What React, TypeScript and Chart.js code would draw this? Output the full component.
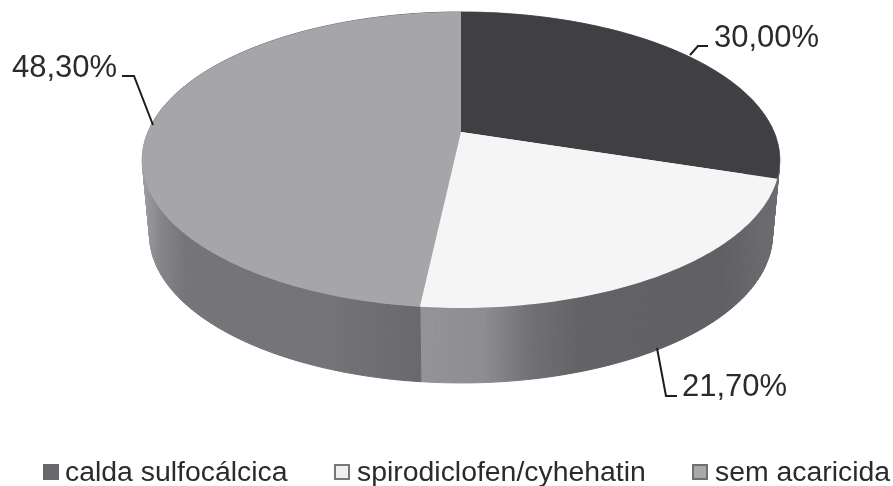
import { useEffect, useRef } from "react";
import { Chart, registerables } from "chart.js";

Chart.register(...registerables);

const categories = ["calda sulfocálcica", "spirodiclofen/cyhehatin", "sem acaricida"];
const shares = [30.0, 21.7, 48.3];
const topColors = ["#3f3f44", "#f5f5f6", "#a5a5aa"];

const FONT = '"Liberation Sans", Arial, sans-serif';

// Perspective view of the disc: angles come from the pie controller, screen
// positions from a projective map centred on the apex of the slices.
const APEX_X = 461;
const APEX_Y = 132;
const SCALE_X = 313;
const SCALE_Y = 142.7;
const TILT = 0.189;
const DEPTH = 75;
const FLOOR_SHRINK = 0.977;

type Stop = [number, string];
const wallShades: Stop[][] = [
  [[560, "#5c5c60"], [778, "#6c6c70"]],
  [[422, "#949498"], [485, "#8d8d91"], [530, "#717175"], [580, "#626267"], [720, "#5f5f64"], [778, "#6d6d71"]],
  [[142, "#a0a0a4"], [160, "#86868a"], [185, "#757579"], [330, "#747478"], [422, "#68686d"]],
];

const labelSpots = [
  { x: 714, y: 47 },
  { x: 682, y: 396 },
  { x: 12, y: 77 },
];
const leaders = [
  [[690, 55], [698, 46], [708, 46]],
  [[657, 348], [666, 396], [677, 396]],
  [[122, 76], [134, 76], [153, 125]],
];
const legendSpots = [
  { box: 43, text: 65 },
  { box: 334, text: 357 },
  { box: 692, text: 715 },
];
const legendFill = ["#69696d", "#efeff0", "#a9a9ac"];
const legendEdge = ["#69696d", "#77777a", "#6f6f72"];

const project = (angle: number, floor: boolean) => {
  const u = Math.sin(angle);
  const v = Math.cos(angle);
  const w = 1 + TILT * v;
  const k = floor ? FLOOR_SHRINK : 1;
  return {
    x: APEX_X + (SCALE_X * k * u) / w,
    y: APEX_Y - (SCALE_Y * v) / w + (floor ? DEPTH : 0),
  };
};

const sampleArc = (a0: number, a1: number, floor: boolean) => {
  const steps = Math.max(2, Math.ceil((a1 - a0) * 60));
  const pts = [];
  for (let i = 0; i <= steps; i++) pts.push(project(a0 + ((a1 - a0) * i) / steps, floor));
  return pts;
};

const formatShare = (v: number) => v.toFixed(2).replace(".", ",") + "%";

const solidPie = {
  id: "solidPie",
  beforeDatasetDraw(chart: any, args: any) {
    const { ctx } = chart;
    const arcs = chart.getDatasetMeta(args.index).data;
    const angles = arcs.map((arc: any) => [arc.startAngle + Math.PI / 2, arc.endAngle + Math.PI / 2]);

    ctx.save();
    // side wall, one thin strip at a time so the silhouette stays closed
    ctx.lineWidth = 1;
    ctx.lineJoin = "round";
    angles.forEach(([a0, a1]: number[], i: number) => {
      const top = sampleArc(a0, a1, false);
      const floor = sampleArc(a0, a1, true);
      const stops = wallShades[i];
      const first = stops[0][0];
      const last = stops[stops.length - 1][0];
      const grad = ctx.createLinearGradient(first, 0, last, 0);
      stops.forEach(([x, c]) => grad.addColorStop((x - first) / (last - first), c));
      ctx.fillStyle = grad;
      ctx.strokeStyle = grad;
      for (let n = 0; n < top.length - 1; n++) {
        ctx.beginPath();
        ctx.moveTo(top[n].x, top[n].y);
        ctx.lineTo(top[n + 1].x, top[n + 1].y);
        ctx.lineTo(floor[n + 1].x, floor[n + 1].y);
        ctx.lineTo(floor[n].x, floor[n].y);
        ctx.closePath();
        ctx.fill();
        ctx.stroke();
      }
    });
    // top face
    angles.forEach(([a0, a1]: number[], i: number) => {
      ctx.fillStyle = arcs[i].options.backgroundColor;
      ctx.beginPath();
      ctx.moveTo(APEX_X, APEX_Y);
      sampleArc(a0, a1, false).forEach((p) => ctx.lineTo(p.x, p.y));
      ctx.closePath();
      ctx.fill();
    });
    ctx.restore();
    return false;
  },
  afterDraw(chart: any) {
    const { ctx } = chart;
    ctx.save();
    ctx.textBaseline = "alphabetic";
    ctx.textAlign = "left";
    ctx.fillStyle = "#2b2b2d";
    ctx.font = `31px ${FONT}`;
    shares.forEach((v, i) => ctx.fillText(formatShare(v), labelSpots[i].x, labelSpots[i].y));

    ctx.strokeStyle = "#1e1e20";
    ctx.lineWidth = 2;
    leaders.forEach((line) => {
      ctx.beginPath();
      line.forEach(([x, y], n) => (n ? ctx.lineTo(x, y) : ctx.moveTo(x, y)));
      ctx.stroke();
    });

    ctx.font = `28.4px ${FONT}`;
    categories.forEach((name, i) => {
      const { box, text } = legendSpots[i];
      ctx.fillStyle = legendFill[i];
      ctx.strokeStyle = legendEdge[i];
      ctx.lineWidth = 2;
      ctx.fillRect(box + 1, 465, 14, 14);
      ctx.strokeRect(box + 1, 465, 14, 14);
      ctx.fillStyle = "#2b2b2d";
      ctx.fillText(name, text, 481);
    });
    ctx.restore();
  },
};

export default function App() {
  const canvasRef = useRef<HTMLCanvasElement>(null);

  useEffect(() => {
    document.body.style.margin = "0";
    const chart = new Chart(canvasRef.current!, {
      type: "pie",
      data: {
        labels: categories,
        datasets: [{ data: shares, backgroundColor: topColors, borderWidth: 0 }],
      },
      options: {
        animation: false,
        responsive: false,
        plugins: { legend: { display: false }, tooltip: { enabled: false } },
      },
      plugins: [solidPie],
    });
    return () => chart.destroy();
  }, []);

  return <canvas ref={canvasRef} width={893} height={486} style={{ display: "block" }} />;
}
